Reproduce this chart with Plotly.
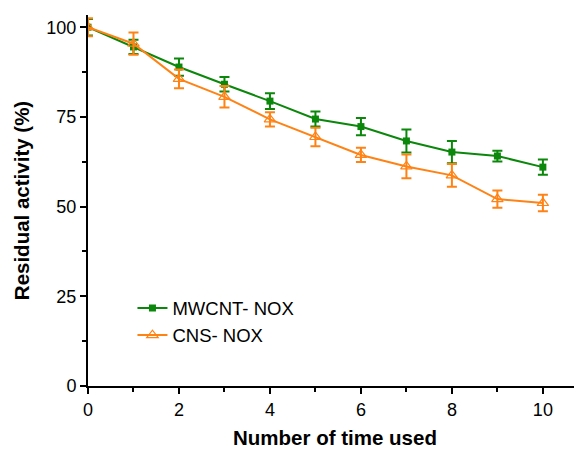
import plotly.graph_objects as go

cycles = [0, 1, 2, 3, 4, 5, 6, 7, 8, 9, 10]
mwcnt = [100.0, 94.5, 88.9, 84.1, 79.4, 74.4, 72.3, 68.3, 65.2, 64.1, 61.0]
mwcnt_err = [2.3, 2.0, 2.4, 2.0, 2.2, 2.1, 2.4, 3.2, 3.1, 1.5, 2.1]
cns = [100.0, 95.4, 85.6, 80.6, 74.3, 69.4, 64.4, 61.2, 58.7, 52.1, 51.0]
cns_err = [2.5, 3.1, 2.6, 3.0, 2.0, 2.6, 2.0, 3.3, 3.2, 2.4, 2.3]

green = "#0b870b"
orange = "#ff8214"

fig = go.Figure()
fig.add_trace(go.Scatter(
    x=cycles, y=mwcnt, name="MWCNT- NOX", mode="lines+markers",
    line=dict(color=green, width=2),
    marker=dict(symbol="square", size=7, color=green),
    error_y=dict(type="data", array=mwcnt_err, color=green, thickness=2, width=5),
))
fig.add_trace(go.Scatter(
    x=cycles, y=cns, name="CNS- NOX", mode="lines+markers",
    line=dict(color=orange, width=2),
    marker=dict(symbol="triangle-up-open", size=10, color=orange,
                line=dict(width=1.2, color=orange)),
    error_y=dict(type="data", array=cns_err, color=orange, thickness=2, width=5),
))

axis_common = dict(
    showline=True, linecolor="black", linewidth=2, ticks="outside",
    ticklen=6, tickwidth=2, tickcolor="black", showgrid=False, zeroline=False,
    automargin=False,
    tickfont=dict(family="Liberation Sans, Arial", size=18, color="black"),
    minor=dict(ticks="outside", ticklen=4, tickwidth=2, tickcolor="black"),
)

fig.update_xaxes(
    range=[0, 10.86], tickvals=[0, 2, 4, 6, 8, 10],
    minor_dtick=1, minor_tick0=0,
    title=dict(text="<b>Number of time used</b>",
               font=dict(family="Liberation Sans, Arial", size=20.5, color="black"),
               standoff=12),
    **axis_common,
)
fig.update_yaxes(
    range=[0, 103.4], tickvals=[0, 25, 50, 75, 100],
    minor_dtick=12.5, minor_tick0=0,
    title=dict(text="<b>Residual activity (%)</b>",
               font=dict(family="Liberation Sans, Arial", size=20.5, color="black"),
               standoff=11),
    **axis_common,
)

# page body has an 8px margin, so the figure is sized to fit inside the window
fig.update_layout(
    width=574, height=441,
    margin=dict(l=80, r=0, t=7, b=63, autoexpand=False),
    plot_bgcolor="white", paper_bgcolor="white",
    showlegend=True,
    legend=dict(x=0.09, y=0.26, xanchor="left", yanchor="top",
                bgcolor="rgba(0,0,0,0)", tracegroupgap=0, itemwidth=30,
                font=dict(family="Liberation Sans, Arial", size=18.5, color="black")),
)

fig.write_html("out.html")
